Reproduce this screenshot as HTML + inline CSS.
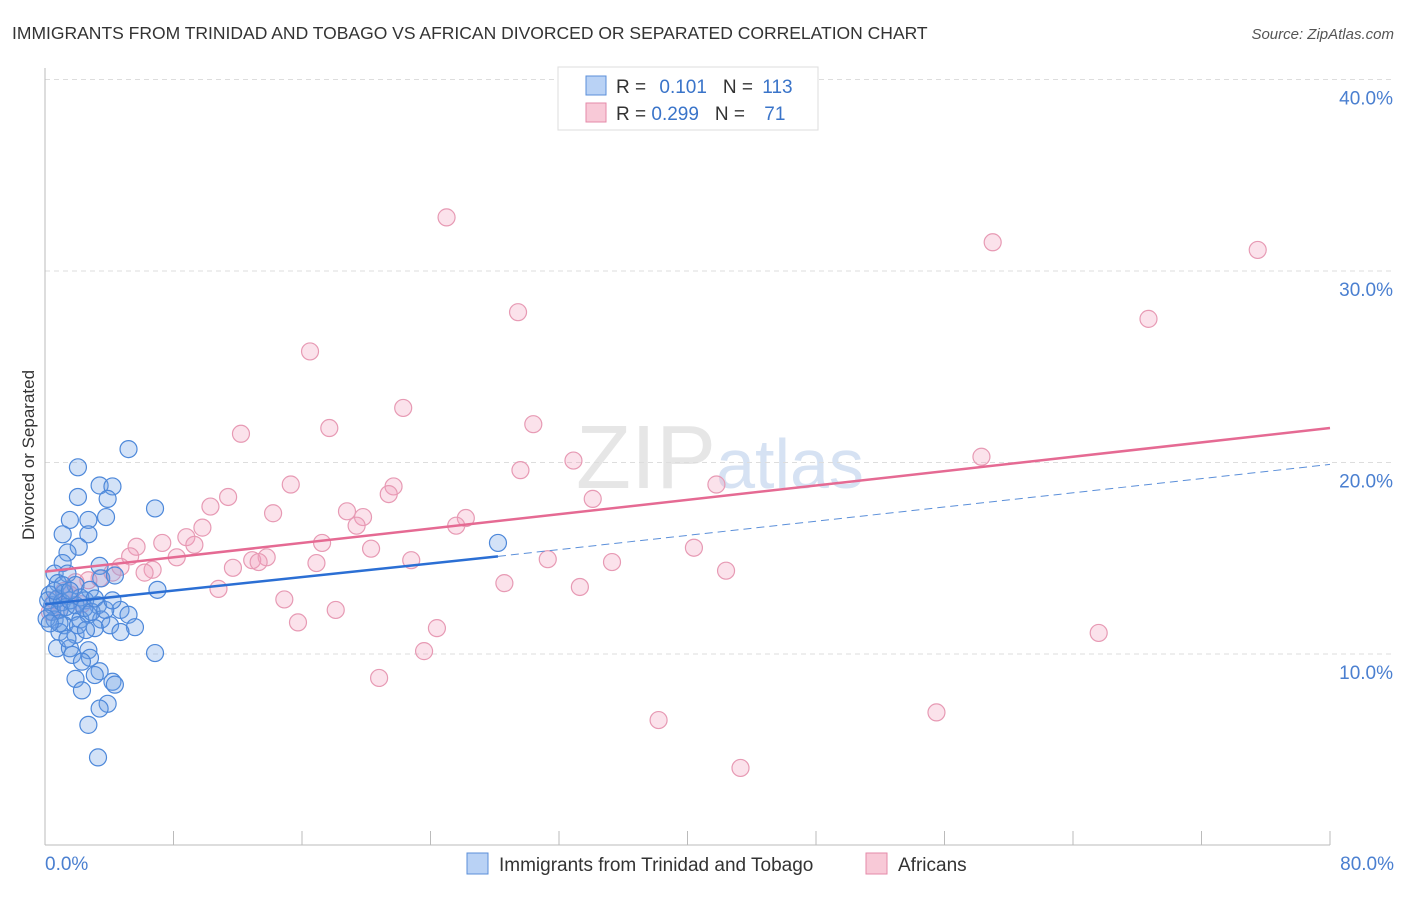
<!DOCTYPE html>
<html><head><meta charset="utf-8"><style>
body{margin:0;background:#fff;font-family:"Liberation Sans",sans-serif;}
svg text{font-family:"Liberation Sans",sans-serif;}
</style></head><body>
<svg id="chart" width="1406" height="892" xmlns="http://www.w3.org/2000/svg">
<text x="12" y="39" font-size="17.5" fill="#333">IMMIGRANTS FROM TRINIDAD AND TOBAGO VS AFRICAN DIVORCED OR SEPARATED CORRELATION CHART</text>
<text x="1394" y="39" font-size="15" fill="#555" text-anchor="end" font-style="italic">Source: ZipAtlas.com</text>
<text x="720" y="488" font-size="90" fill="#e6e6e6" text-anchor="middle" font-family="Liberation Serif">ZIP<tspan fill="#d6e2f3" font-family="Liberation Sans" font-size="70">atlas</tspan></text>
<text transform="translate(34,455) rotate(-90)" font-size="17" fill="#333" text-anchor="middle">Divorced or Separated</text>
<g id="grid"></g><g id="axes"></g><g id="pinkpts"></g><g id="bluepts"></g><g id="trends"></g>
<g>
<rect x="558" y="67" width="260" height="63" fill="#fff" stroke="#ddd"/>
<rect x="586" y="76" width="20" height="19" fill="#b9d2f5" stroke="#5b8fd9"/>
<rect x="586" y="103" width="20" height="19" fill="#f8c9d7" stroke="#e58aa9"/>
<text x="616" y="93" font-size="19" fill="#333">R = <tspan fill="#3a74c9" dx="8">0.101</tspan><tspan dx="16">N = </tspan><tspan fill="#3a74c9" dx="4">113</tspan></text>
<text x="616" y="120" font-size="19" fill="#333">R = <tspan fill="#3a74c9">0.299</tspan><tspan dx="16">N = </tspan><tspan fill="#3a74c9" dx="14">71</tspan></text>
</g>
<g>
<rect x="467" y="853" width="21" height="21" fill="#b9d2f5" stroke="#5b8fd9"/>
<text x="499" y="871" font-size="19" fill="#333">Immigrants from Trinidad and Tobago</text>
<rect x="866" y="853" width="21" height="21" fill="#f8c9d7" stroke="#e58aa9"/>
<text x="898" y="871" font-size="19" fill="#333">Africans</text>
</g>
</svg>
<script>
const yTicks=[10,20,30,40];
const yTickLabels=["10.0%","20.0%","30.0%","40.0%"];
const xTickVals=[0,8,16,24,32,40,48,56,64,72,80];
const xEndLabels=["0.0%","80.0%"];
const blueX=[5.2,2.05,3.4,4.2,2.05,3.9,6.85,1.55,2.7,3.8,1.1,2.7,2.1,28.2,1.4,1.1,3.4,0.6,1.4,3.5,4.35,0.8,1.9,2.8,7.0,0.3,1.2,2.5,3.3,0.45,0.9,4.7,1.7,2.7,3.5,5.2,0.6,1.2,2.2,4.05,5.6,3.1,4.7,0.9,1.9,0.75,1.55,2.7,6.85,1.7,2.8,2.3,3.4,3.1,1.9,4.2,4.35,2.3,3.9,3.4,2.7,3.3,0.2,0.45,0.8,1.05,1.3,1.55,1.9,2.2,2.45,2.9,0.6,0.1,1.1,1.55,2.05,2.55,3.1,3.75,4.2,1.4,0.9,0.3];
const blueY=[20.7,19.75,18.8,18.75,18.2,18.1,17.6,17.0,17.0,17.15,16.25,16.25,15.6,15.8,15.3,14.75,14.6,14.2,14.2,13.95,14.1,13.7,13.6,13.35,13.35,13.1,13.2,12.8,12.55,12.55,12.3,12.3,12.2,12.05,11.8,12.05,11.8,11.5,11.8,11.5,11.4,11.35,11.15,11.15,11.0,10.3,10.3,10.2,10.05,9.95,9.8,9.6,9.1,8.9,8.7,8.55,8.4,8.1,7.4,7.15,6.3,4.6,12.8,12.2,12.9,12.7,12.45,12.8,12.55,12.95,12.4,12.2,13.3,11.85,13.6,13.3,11.5,11.25,12.9,12.3,12.8,10.8,11.6,11.6];
const pinkX=[25,59,75.5,29.45,68.7,16.5,22.3,30.4,12.2,17.7,32.9,58.3,29.6,41.8,15.3,21.7,21.4,11.4,34.1,10.3,14.2,18.8,19.8,26.2,19.4,25.6,9.8,8.8,17.25,9.3,7.3,5.7,20.3,40.4,8.2,5.3,13.8,12.9,13.3,31.3,22.8,35.3,16.9,11.7,6.7,42.4,6.2,4.7,4.2,3.4,2.7,1.9,28.6,33.3,10.8,1.2,0.6,14.9,18.1,15.75,24.4,65.6,23.6,20.8,55.5,38.2,43.3,0.9,1.55,0.3,2.3];
const pinkY=[32.8,31.5,31.1,27.85,27.5,25.8,22.85,22.0,21.5,21.8,20.1,20.3,19.6,18.85,18.85,18.75,18.35,18.2,18.1,17.7,17.35,17.45,17.15,17.1,16.7,16.7,16.6,16.1,15.8,15.7,15.8,15.6,15.5,15.55,15.05,15.1,15.05,14.9,14.8,14.95,14.9,14.8,14.75,14.5,14.4,14.35,14.25,14.55,14.25,13.95,13.85,13.75,13.7,13.5,13.4,13.3,12.8,12.85,12.3,11.65,11.35,11.1,10.15,8.75,6.95,6.55,4.05,12.3,13.1,12.2,12.6];
const blueTrend=[[0,12.6],[28.2,15.1],[80,19.9]];
const pinkTrend=[[0,14.3],[80,21.8]];
const NS="http://www.w3.org/2000/svg";
const X=v=>45+v*(1285/80), Y=v=>845.5-v*19.15;
function mk(t,a,p){const e=document.createElementNS(NS,t);for(const k in a)e.setAttribute(k,a[k]);p.appendChild(e);return e;}
const grid=document.getElementById('grid'),axes=document.getElementById('axes');
yTicks.forEach((v,i)=>{
 const l=mk('line',{x1:45,x2:1394,y1:Y(v),y2:Y(v),stroke:'#ddd','stroke-dasharray':'5,4'},grid);
 
 
 const t=mk('text',{x:1393,y:Y(v)+25,'font-size':19,fill:'#4a7fd0','text-anchor':'end'},axes);
 t.textContent=yTickLabels[i];
 
 
});
const ya=mk('line',{x1:45,x2:45,y1:68,y2:845,stroke:'#bbb'},axes);


const xa=mk('line',{x1:45,x2:1330,y1:845,y2:845,stroke:'#bbb'},axes);


xTickVals.forEach(v=>{const t=mk('line',{x1:X(v),x2:X(v),y1:831,y2:845,stroke:'#bbb'},axes);
 
 });
[[0,'start',45],[80,'end',1394]].forEach((d,i)=>{const t=mk('text',{x:d[2],y:870,'font-size':19,fill:'#4a7fd0','text-anchor':d[1]},axes);t.textContent=xEndLabels[i];
 
 });
function pts(xs,ys,g,fill,stroke,name){xs.forEach((x,i)=>{const c=mk('circle',{cx:X(x),cy:Y(ys[i]),r:8.5,fill:fill,stroke:stroke,'stroke-width':1.2},g);
 
 });}
pts(pinkX,pinkY,document.getElementById('pinkpts'),'rgba(242,160,188,0.3)','#e79ab4','africans-point');
pts(blueX,blueY,document.getElementById('bluepts'),'rgba(110,160,230,0.3)','#4d88da','trinidad-point');
const tr=document.getElementById('trends');
const b1=mk('line',{x1:X(blueTrend[0][0]),y1:Y(blueTrend[0][1]),x2:X(blueTrend[1][0]),y2:Y(blueTrend[1][1]),stroke:'#2b6fd4','stroke-width':2.5},tr);


const b2=mk('line',{x1:X(blueTrend[1][0]),y1:Y(blueTrend[1][1]),x2:X(blueTrend[2][0]),y2:Y(blueTrend[2][1]),stroke:'#5b8fd9','stroke-width':1,'stroke-dasharray':'8,5'},tr);


const p1=mk('line',{x1:X(pinkTrend[0][0]),y1:Y(pinkTrend[0][1]),x2:X(pinkTrend[1][0]),y2:Y(pinkTrend[1][1]),stroke:'#e56a93','stroke-width':2.5},tr);


</script>
</body></html>
